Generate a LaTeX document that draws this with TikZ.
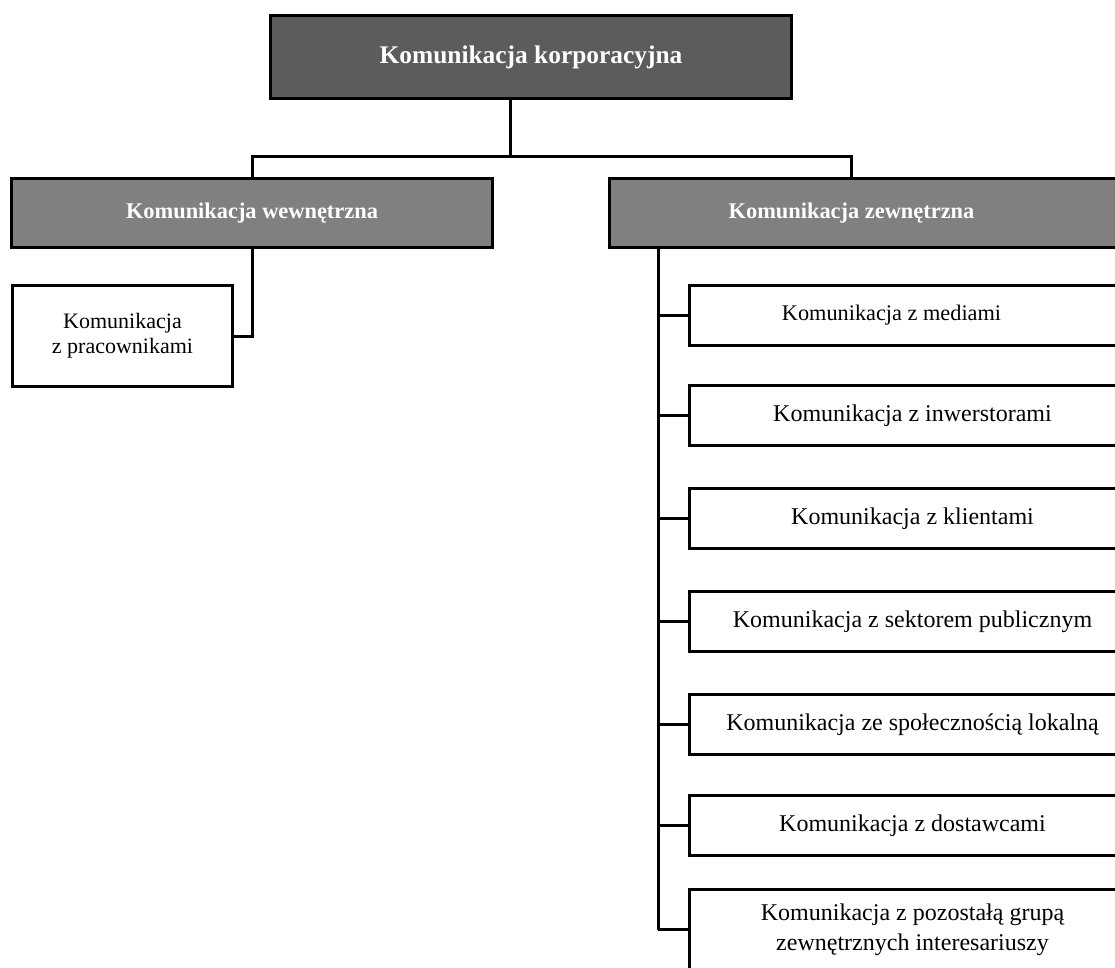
\documentclass[tikz,border=0pt]{standalone}
\usepackage{fontspec}
\setmainfont{Liberation Serif}
\definecolor{topgray}{HTML}{5C5C5C}
\definecolor{midgray}{HTML}{808080}
\begin{document}
\begin{tikzpicture}[x=1pt,y=-1pt,
  conn/.style={draw=black, line width=3pt},
  boxbase/.style={draw=black, line width=3pt, inner sep=0pt, anchor=north west, align=center},
  topbox/.style={boxbase, fill=topgray, text=white, font=\fontsize{25.4}{29}\selectfont\bfseries},
  midbox/.style={boxbase, fill=midgray, text=white, font=\fontsize{22.4}{26}\selectfont\bfseries, minimum height=69pt},
  leafbox/.style={boxbase, fill=white, text=black, font=\fontsize{24}{26}\selectfont},
]
\path[use as bounding box, clip] (0,0) rectangle (1115,967);

\node[topbox, minimum width=521pt, minimum height=83pt] (top) at (269,14) {Komunikacja korporacyjna};
\node[midbox, minimum width=481pt] (wew) at (10,177) {Komunikacja wewnętrzna};
\node[midbox, minimum width=526pt] (zew) at (608,177) {\makebox[484pt]{Komunikacja zewnętrzna}\hspace*{42pt}};

\node[leafbox, minimum width=220pt, minimum height=101pt, font=\fontsize{22}{25}\selectfont] (prac) at (11,284) {Komunikacja\\z pracownikami};

\node[leafbox, minimum width=446pt, minimum height=60pt, font=\fontsize{22.3}{26}\selectfont] (c1) at (688,284) {\makebox[404pt]{Komunikacja z mediami}\hspace*{42pt}};
\node[leafbox, minimum width=446pt, minimum height=60pt] (c2) at (688,384) {Komunikacja z inwerstorami};
\node[leafbox, minimum width=446pt, minimum height=60pt] (c3) at (688,487) {Komunikacja z klientami};
\node[leafbox, minimum width=446pt, minimum height=60pt] (c4) at (688,590) {Komunikacja z sektorem publicznym};
\node[leafbox, minimum width=446pt, minimum height=60pt] (c5) at (688,693) {Komunikacja ze społecznością lokalną};
\node[leafbox, minimum width=446pt, minimum height=60pt] (c6) at (688,794) {Komunikacja z dostawcami};
\node[leafbox, minimum width=446pt, minimum height=80pt, font=\fontsize{24}{30}\selectfont] (c7) at (688,888) {Komunikacja z pozostałą grupą\\zewnętrznych interesariuszy};

\coordinate (j) at (510,156);
\coordinate (zj) at (851,156);
\coordinate (rt) at (658,246);

\draw[conn] (top.south -| j) -- (j);
\draw[conn] (wew.north) |- (j) -- (zj) -- (zj |- zew.north);
\draw[conn] (wew.south) |- (prac.east);
\draw[conn] (zew.south -| rt) -- (rt |- c7.west);
\foreach \c in {c1,c2,c3,c4,c5,c6,c7}{
  \draw[conn] (rt |- \c.west) -- (\c.west);
}
\end{tikzpicture}
\end{document}
